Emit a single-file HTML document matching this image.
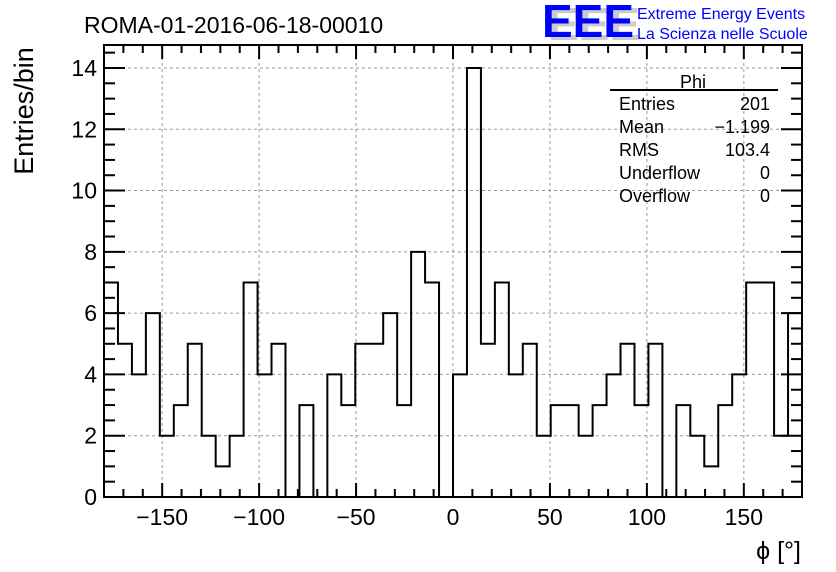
<!DOCTYPE html>
<html><head><meta charset="utf-8"><style>
body{margin:0;background:#fff}
svg{display:block;font-family:"Liberation Sans",Arial,sans-serif}
</style></head><body>
<svg id="c" width="836" height="572" xmlns="http://www.w3.org/2000/svg">
<rect width="836" height="572" fill="#fff"/>
<g id="grid"></g>
<path id="hist" fill="none" stroke="#000" stroke-width="2"/>
<rect x="104" y="45" width="698" height="452" fill="none" stroke="#000" stroke-width="2"/>
<g id="ticks" stroke="#000" stroke-width="2"></g>
<g id="labels" font-size="23" fill="#000"></g>
<text x="84" y="33" font-size="23">ROMA-01-2016-06-18-00010</text>
<text transform="translate(33,111) rotate(-90)" text-anchor="middle" font-size="27">Entries/bin</text>
<text x="801" y="559" text-anchor="end" font-size="25">ϕ [°]</text>
<g>
<text x="548" y="40" font-size="46" fill="#ccc" font-weight="bold">EEE</text>
<text x="542" y="37" font-size="46" fill="#0000ff" font-weight="bold">EEE</text>
<text x="637" y="19" font-size="16" fill="#0000ff">Extreme Energy Events</text>
<text x="637" y="39" font-size="16" fill="#0000ff">La Scienza nelle Scuole</text>
</g>
<g font-size="18">
<text x="693" y="88" text-anchor="middle">Phi</text>
<line x1="610" y1="90" x2="778" y2="90" stroke="#000" stroke-width="2"/>
<text x="619" y="110">Entries</text><text x="770" y="110" text-anchor="end">201</text>
<text x="619" y="133">Mean</text><text x="770" y="133" text-anchor="end">−1.199</text>
<text x="619" y="156">RMS</text><text x="770" y="156" text-anchor="end">103.4</text>
<text x="619" y="179">Underflow</text><text x="770" y="179" text-anchor="end">0</text>
<text x="619" y="202">Overflow</text><text x="770" y="202" text-anchor="end">0</text>
</g>
</svg>
<script>
const binCounts=[7,5,4,6,2,3,5,2,1,2,7,4,5,0,3,0,4,3,5,5,6,3,8,7,0,4,14,5,7,4,5,2,3,3,2,3,4,5,3,5,0,3,2,1,3,4,7,7,2,6];
const xRange=[-180,180];
const yMax=14.75;
const xTickLabels=[-150,-100,-50,0,50,100,150];
const yTickLabels=[0,2,4,6,8,10,12,14];
const NS="http://www.w3.org/2000/svg";
const L=104,R=802,T=45,B=497;
const X=v=>L+(v-xRange[0])/(xRange[1]-xRange[0])*(R-L);
const Y=v=>B-v/yMax*(B-T);
function mk(tag,attrs,parent){const e=document.createElementNS(NS,tag);for(const k in attrs)e.setAttribute(k,attrs[k]);parent.appendChild(e);return e;}
const grid=document.getElementById('grid'),ticks=document.getElementById('ticks'),labels=document.getElementById('labels');
xTickLabels.forEach(v=>{const g=mk('line',{x1:X(v),x2:X(v),y1:T,y2:B,stroke:'#999','stroke-dasharray':'3,3','stroke-width':1},grid);


const t=mk('text',{x:X(v),y:525,'text-anchor':'middle'},labels);t.textContent=v<0?'\u2212'+(-v):v;

});
yTickLabels.forEach(v=>{if(v>0){const g=mk('line',{x1:L,x2:R,y1:Y(v),y2:Y(v),stroke:'#999','stroke-dasharray':'3,3','stroke-width':1},grid);

}
const t=mk('text',{x:97,y:Y(v)+8,'text-anchor':'end'},labels);t.textContent=v;

});
for(let v=-180;v<=180;v+=10){const maj=v%50===0;const len=maj?14:8;
mk('line',{x1:X(v),x2:X(v),y1:B,y2:B-len},ticks);mk('line',{x1:X(v),x2:X(v),y1:T,y2:T+len},ticks);}
for(let v=0;v<=yMax;v+=0.5){const maj=v%2===0;const len=maj?21:11;
mk('line',{x1:L,x2:L+len,y1:Y(v),y2:Y(v)},ticks);mk('line',{x1:R,x2:R-len,y1:Y(v),y2:Y(v)},ticks);}
const n=binCounts.length,w=(xRange[1]-xRange[0])/n;
let d='M'+X(xRange[0])+','+Y(0);
binCounts.forEach((c,i)=>{const x0=X(xRange[0]+i*w),x1=X(xRange[0]+(i+1)*w);d+=' L'+x0+','+Y(c)+' L'+x1+','+Y(c);});
d+=' L'+X(xRange[1])+','+Y(0);
document.getElementById('hist').setAttribute('d',d);
</script>
</body></html>
